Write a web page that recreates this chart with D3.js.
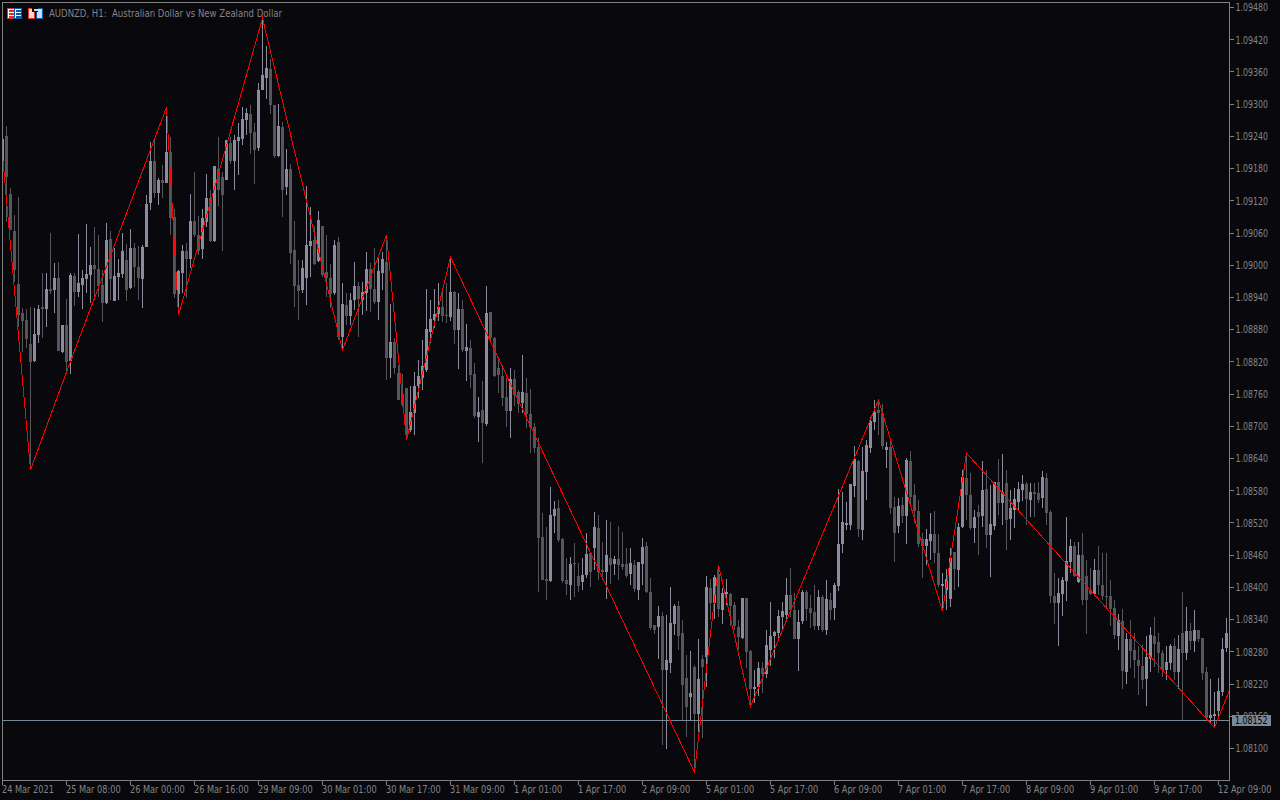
<!DOCTYPE html>
<html>
<head>
<meta charset="utf-8">
<script src="https://cdn.jsdelivr.net/npm/d3@7"></script>
<style>
html,body{margin:0;padding:0;background:#08080d;overflow:hidden}
text{font-family:"DejaVu Sans Condensed","DejaVu Sans",Verdana,sans-serif;font-stretch:condensed;font-size:10px;fill:#858585;white-space:pre}
</style>
</head>
<body>
<svg id="c" width="1280" height="800"></svg>
<script>
// Values are prices in 1/100000 above 1.08000 (e.g. 1236 = 1.09236)
const opens=[
1175,1240,1132,1063,965,911,898,853,822,870,
922,918,955,954,976,838,888,822,980,950,
963,974,982,1000,993,963,929,1048,933,978,
983,1009,957,1032,996,974,1034,1115,1195,1134,
1158,1154,1210,1089,946,985,1026,1011,1082,1056,
1030,1080,1125,1045,1179,1164,1158,1227,1194,1231,
1236,1270,1281,1249,1218,1326,1348,1365,1298,1203,
1257,1145,1179,1028,963,954,976,1035,1047,1008,
1073,987,976,948,1043,866,926,905,935,961,
935,948,993,955,931,985,1006,827,857,799,
760,771,693,725,775,790,805,875,898,909,
922,907,903,950,879,918,840,846,797,717,
730,704,913,864,808,794,755,729,788,764,
743,762,723,699,662,494,416,412,533,548,
490,414,405,446,422,410,424,464,474,511,
433,429,455,444,453,444,444,425,442,396,
444,477,392,330,327,347,247,260,332,366,
316,232,195,252,165,267,271,399,371,425,
358,388,388,368,327,306,381,282,211,215,
250,239,284,310,316,345,349,386,358,303,
338,392,362,355,329,383,321,377,362,403,
481,516,516,589,636,507,615,660,708,730,
725,656,662,550,515,554,533,636,572,543,
490,477,487,500,464,403,396,379,466,433,
513,604,572,511,541,533,584,498,515,596,
557,595,528,544,559,582,593,563,578,576,
567,604,541,384,371,388,412,448,477,410,
461,422,396,388,433,405,384,384,362,310,
338,243,303,284,265,254,230,267,310,299,
278,247,260,291,243,316,277,319,301,321,
305,243,157,161,169,206,288];
const closes=[
1236,1164,1065,991,907,896,862,820,872,918,
918,955,952,976,840,888,820,981,950,967,
976,983,1000,993,961,929,1047,974,980,985,
1026,954,1032,996,976,1034,1114,1195,1134,1158,
1154,1210,1088,946,989,1026,1011,1082,1056,1026,
1088,1125,1045,1184,1140,1130,1233,1194,1233,1238,
1272,1283,1247,1214,1327,1355,1367,1298,1203,1259,
1141,1179,1022,961,952,995,1037,1045,1002,1084,
981,976,946,1037,866,928,905,935,961,937,
950,993,955,931,989,1011,827,857,809,749,
740,688,727,775,794,812,881,900,909,922,
905,905,950,879,918,842,848,795,719,727,
706,911,864,794,795,753,729,788,758,742,
764,723,699,660,492,414,412,535,546,489,
412,407,444,444,403,424,463,429,513,429,
429,461,442,453,442,438,422,446,397,448,
476,392,325,321,347,247,265,334,366,310,
219,178,204,165,230,252,401,371,420,360,
390,392,366,329,308,381,280,211,215,250,
239,293,310,317,347,357,386,358,303,336,
392,360,353,329,383,321,379,358,405,481,
522,520,593,639,509,617,665,710,727,725,
663,662,548,502,552,533,637,569,543,481,
477,490,500,464,405,407,416,455,435,513,
606,572,511,531,531,582,498,518,596,557,
578,526,548,565,583,593,565,578,574,563,
606,539,384,371,390,414,450,477,422,461,
377,377,388,433,405,384,383,360,312,340,
245,303,282,264,254,228,271,312,295,277,
247,262,291,243,286,277,319,301,321,303,
241,157,163,165,208,286,316];
const highs=[
1260,1260,1143,1093,1128,920,918,922,920,926,
985,985,1060,1004,1006,888,937,985,985,1058,
991,1076,1034,1071,1056,991,1078,1063,1032,1011,
1060,1039,1067,1041,1035,1037,1130,1229,1234,1162,
1186,1294,1238,1104,991,1037,1041,1132,1173,1091,
1104,1169,1140,1184,1238,1173,1233,1238,1242,1264,
1294,1292,1298,1264,1340,1460,1409,1385,1298,1300,
1266,1216,1188,1082,1009,1009,1147,1108,1074,1101,
1074,1056,1002,1047,1052,967,948,948,1006,968,
968,1024,1004,1032,1013,1024,1056,928,864,814,
797,771,775,801,823,861,955,935,955,967,
954,967,1015,952,948,935,890,861,818,755,
784,961,913,866,823,814,790,808,805,768,
833,790,769,706,678,539,513,587,561,563,
492,455,457,483,446,455,502,464,541,535,
485,526,522,459,515,503,474,474,451,448,
492,485,418,330,366,355,349,401,370,375,
340,275,282,256,304,275,422,416,423,442,
399,416,390,373,340,381,381,284,247,262,
262,321,373,319,358,373,418,437,390,358,
396,396,386,405,396,386,414,390,409,583,
578,559,593,663,637,662,675,717,749,749,
742,671,675,569,567,569,641,654,593,563,
502,509,539,543,500,427,435,474,466,520,
619,649,613,544,554,636,619,591,596,639,
649,619,582,585,596,610,596,595,595,596,
617,613,544,427,418,420,531,490,485,485,
502,451,437,453,477,464,464,414,377,351,
360,316,340,316,290,293,310,327,344,316,
284,290,295,306,312,392,364,334,358,321,
306,252,230,206,232,306,343];
const lows=[
1173,1080,1065,968,885,838,846,619,820,855,
864,885,946,911,840,836,801,797,924,941,
918,948,929,935,941,894,928,935,933,935,
976,933,955,959,935,920,1034,1102,1125,1112,
1125,1154,1056,939,907,948,939,995,1052,1019,
1011,1071,1043,1043,1110,1026,1158,1188,1140,1168,
1223,1242,1207,1151,1212,1326,1309,1281,1199,1201,
1089,1130,1002,922,898,948,926,978,1000,1006,
978,941,920,944,861,842,888,888,916,866,
907,915,913,928,898,954,786,790,797,749,
736,675,689,684,753,768,801,855,883,896,
894,892,896,853,807,838,784,771,716,671,
632,701,857,792,762,738,699,678,738,725,
725,697,650,650,392,414,377,410,502,485,
409,386,377,383,392,396,418,401,433,414,
414,379,407,424,414,433,418,405,392,377,
405,390,321,314,267,107,100,241,312,284,
154,122,154,56,130,119,215,340,342,345,
332,368,329,321,284,304,250,178,185,197,
204,232,254,269,306,321,340,345,303,245,
331,338,325,321,321,317,312,340,340,394,
464,507,507,569,494,489,563,650,693,684,
658,623,537,448,502,520,481,554,520,476,
418,442,451,446,401,356,358,364,396,401,
511,526,507,483,461,513,474,420,507,535,
516,470,489,511,544,561,517,531,531,557,
548,517,371,332,291,347,375,427,420,409,
368,314,386,386,386,377,362,329,303,284,
210,221,250,232,200,210,180,243,252,241,
234,228,247,228,210,154,265,284,280,299,
228,154,148,139,159,197,280];

const zigBars=[0,7,16,41,44,65,85,96,101,112,173,179,187,219,235,241,303,307];
const zigValues=[1205,619,801,1294,907,1460,842,1056,675,1015,56,442,178,749,356,650,139,213];

const priceTicks=[1.0810,1.0816,1.0822,1.0828,1.0834,1.0840,1.0846,1.0852,1.0858,1.0864,1.0870,1.0876,1.0882,1.0888,1.0894,1.0900,1.0906,1.0912,1.0918,1.0924,1.0930,1.0936,1.0942,1.0948];
const timeLabels=["24 Mar 2021","25 Mar 08:00","26 Mar 00:00","26 Mar 16:00","29 Mar 09:00","30 Mar 01:00","30 Mar 17:00","31 Mar 09:00","1 Apr 01:00","1 Apr 17:00","2 Apr 09:00","5 Apr 01:00","5 Apr 17:00","6 Apr 09:00","7 Apr 01:00","7 Apr 17:00","8 Apr 09:00","9 Apr 01:00","9 Apr 17:00","12 Apr 09:00"];
const barsPerLabel=16;
const lastPrice=1.08152;
const titleText="AUDNZD, H1:  Australian Dollar vs New Zealand Dollar";

const BASE=1.08, UNIT=1e-5;
const price=v=>BASE+v*UNIT;

const W=1280,H=800;
const bull="#8b8d9c",bear="#55555a",frame="#808080",ink="#858585",lastColor="#778899";

const svg=d3.select("#c");
svg.append("rect").attr("width",W).attr("height",H).attr("fill","#08080d");
const x=d3.scaleLinear().domain([0,306]).range([2.5,1226.5]);
const y=d3.scaleLinear().domain([1.0810,1.0948]).range([748.5,7.5]);

const defs=svg.append("defs");
defs.append("clipPath").attr("id","plot").append("rect")
  .attr("x",3).attr("y",3).attr("width",1226).attr("height",777);

const plot=svg.append("g").attr("clip-path","url(#plot)");
const idx=d3.range(opens.length);
const candles=plot.append("g").attr("shape-rendering","crispEdges");
const colour=i=>closes[i]>=opens[i]?bull:bear;
candles.selectAll("line").data(idx).join("line")
  .attr("x1",i=>x(i)).attr("x2",i=>x(i))
  .attr("y1",i=>y(price(highs[i]))).attr("y2",i=>y(price(lows[i])))
  .attr("stroke",colour).attr("stroke-width",1);
candles.selectAll("rect").data(idx).join("rect")
  .attr("x",i=>Math.floor(x(i))-1).attr("width",3)
  .attr("y",i=>Math.round(y(price(Math.max(opens[i],closes[i])))))
  .attr("height",i=>Math.max(1,Math.round(y(price(Math.min(opens[i],closes[i]))))-Math.round(y(price(Math.max(opens[i],closes[i]))))))
  .attr("fill",colour);

// last price line
const ly=Math.floor(y(lastPrice))+0.5;
plot.append("line").attr("x1",3).attr("x2",1229).attr("y1",ly).attr("y2",ly)
  .attr("stroke",lastColor).attr("stroke-width",1).attr("shape-rendering","crispEdges");

// zigzag
const zigLine=d3.line().x(d=>x(d[0])).y(d=>y(price(d[1])));
plot.append("path").attr("d",zigLine(d3.zip(zigBars,zigValues)))
  .attr("fill","none").attr("stroke","#ff0000").attr("stroke-width",1)
  .attr("shape-rendering","crispEdges");

// axes
const axisR=d3.axisRight(y).tickValues(priceTicks).tickFormat(d3.format(".5f")).tickSize(4).tickPadding(2).offset(0);
const gR=svg.append("g").attr("transform","translate(1229.5,0)").call(axisR);
const axisB=d3.axisBottom(x).tickValues(timeLabels.map((_,k)=>k*barsPerLabel))
  .tickFormat((d,k)=>timeLabels[k]).tickSize(4).tickPadding(2).offset(0);
const gB=svg.append("g").attr("transform","translate(0,780.5)").call(axisB);
[gR,gB].forEach(g=>{
  g.select(".domain").remove();
  g.selectAll("line").attr("stroke",frame).attr("shape-rendering","crispEdges");
  g.selectAll("text").attr("fill",ink);
});
gB.selectAll("text").attr("text-anchor","start").attr("x",-0.5).attr("y",5).attr("dy","0.71em");
gR.selectAll("text").attr("x",6).attr("dy","0.38em");

// frame
svg.append("rect").attr("x",2.5).attr("y",2.5).attr("width",1227).attr("height",778)
  .attr("fill","none").attr("stroke",frame).attr("shape-rendering","crispEdges");

// title icons
const ic=svg.append("g").attr("shape-rendering","crispEdges");
const R="#e0322c",B="#0a5aa8";
ic.append("rect").attr("x",7.5).attr("y",8.5).attr("width",14).attr("height",10).attr("fill","#fff").attr("stroke",R);
ic.append("rect").attr("x",14.5).attr("y",8.5).attr("width",7).attr("height",10).attr("fill","#fff").attr("stroke",B);
[10,13,16].forEach(v=>{
  ic.append("rect").attr("x",9).attr("y",v).attr("width",5).attr("height",2).attr("fill",R);
  ic.append("rect").attr("x",16).attr("y",v).attr("width",5).attr("height",2).attr("fill",B);
});
ic.append("rect").attr("x",28.5).attr("y",8.5).attr("width",6).attr("height",10).attr("fill","#ffd8d0").attr("stroke",R);
ic.append("rect").attr("x",36.5).attr("y",8.5).attr("width",6).attr("height",10).attr("fill","#bfe2ff").attr("stroke",B);
ic.append("rect").attr("x",32).attr("y",8).attr("width",6).attr("height",4).attr("fill","#08080d");
ic.append("rect").attr("x",33.5).attr("y",8.5).attr("width",5).attr("height",2).attr("fill","#d8d8d8");

// title
const title=svg.append("text").attr("x",49).attr("y",17).attr("fill",ink).text(titleText);

// last price badge
svg.append("rect").attr("x",1232).attr("y",715).attr("width",39).attr("height",11).attr("fill",lastColor).attr("shape-rendering","crispEdges");
const badge=svg.append("text").attr("x",1235).attr("y",724).style("fill","#000").text(d3.format(".5f")(lastPrice));

// fit the text to the widths measured in the chart
const fit=(sel,w)=>sel.each(function(){
  const len=this.getComputedTextLength();
  d3.select(this).attr("textLength",w(len)).attr("lengthAdjust","spacingAndGlyphs");
});
fit(gR.selectAll("text"),()=>32.5);
fit(badge,()=>32.5);
fit(gB.selectAll("text"),l=>l*0.91);
fit(title,()=>233);
</script>
</body>
</html>
